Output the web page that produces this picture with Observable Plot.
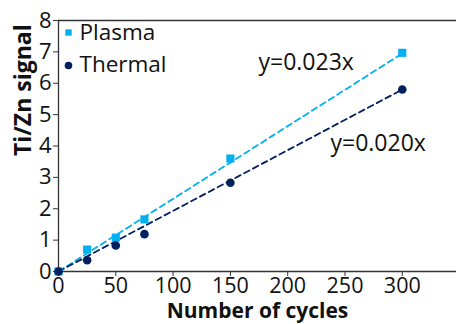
<!DOCTYPE html>
<html><head><meta charset="utf-8">
<script src="https://cdn.jsdelivr.net/npm/d3@7"></script>
<script src="https://cdn.jsdelivr.net/npm/@observablehq/plot@0.6"></script>
<style>body{margin:0;background:#fff}svg{font-family:"Open Sans",sans-serif}</style>
</head><body><div id="chart"></div>
<script>
const cycles = [0, 25, 50, 75, 150, 300];
const plasma = [0, 0.70, 1.08, 1.66, 3.60, 6.97];
const thermal = [0, 0.36, 0.83, 1.19, 2.83, 5.80];
const seriesNames = ["Plasma", "Thermal"];
const seriesColors = ["#00B0F0", "#002060"];
const fitX = [0, 300];
const fitPlasma = [0, 6.95];
const fitThermal = [0, 5.8];
const eqLabels = ["y=0.023x", "y=0.020x"];
const xTicks = [0, 50, 100, 150, 200, 250, 300];
const yTicks = [0, 1, 2, 3, 4, 5, 6, 7, 8];

const pts = cycles.flatMap((c, i) => [
  {x: c, y: plasma[i], s: seriesNames[0]},
  {x: c, y: thermal[i], s: seriesNames[1]}
]);
const fits = fitX.flatMap((c, i) => [
  {x: c, y: fitPlasma[i], s: seriesNames[0]},
  {x: c, y: fitThermal[i], s: seriesNames[1]}
]);
const axisColor = "#333";
const plot = Plot.plot({
  width: 456, height: 324,
  marginLeft: 58, marginTop: 20, marginBottom: 53, marginRight: 0,
  style: {fontFamily: "Open Sans, sans-serif", fontSize: "22px", color: "#111", background: "#fff"},
  x: {domain: [0, 347.3], ticks: xTicks, label: null},
  y: {domain: [0, 8], ticks: yTicks, label: null},
  marks: [
    Plot.axisX({ticks: xTicks, tickSize: 5, tickPadding: 1, fontSize: 21.5, stroke: axisColor, label: null}),
    Plot.axisY({ticks: yTicks, tickSize: 5, tickPadding: 2, fontSize: 22, stroke: axisColor, label: null}),
    Plot.ruleY([0], {stroke: axisColor, strokeWidth: 1.3}),
    Plot.ruleY([8], {stroke: axisColor, strokeWidth: 1.3}),
    Plot.ruleX([0], {stroke: axisColor, strokeWidth: 1.3}),
    Plot.line(fits, {x: "x", y: "y", z: "s", stroke: d => d.s === seriesNames[0] ? seriesColors[0] : seriesColors[1], strokeWidth: 1.8, strokeDasharray: "6,4"}),
    Plot.dot(pts.filter(d => d.s === seriesNames[0]), {x: "x", y: "y", symbol: "square", r: 4.6, fill: seriesColors[0], stroke: "none"}),
    Plot.dot(pts.filter(d => d.s === seriesNames[1]), {x: "x", y: "y", symbol: "circle", r: 4.3, fill: seriesColors[1], stroke: "none"}),
    // legend
    Plot.dot([seriesNames[0]], {frameAnchor: "top-left", dx: 10, dy: 12, symbol: "square", r: 3.6, fill: seriesColors[0], stroke: "none"}),
    Plot.dot([seriesNames[1]], {frameAnchor: "top-left", dx: 10, dy: 45, symbol: "circle", r: 3.8, fill: seriesColors[1], stroke: "none"}),
    Plot.text([seriesNames[0]], {text: d => d, frameAnchor: "top-left", dx: 21, dy: 12, textAnchor: "start", lineAnchor: "middle", fontSize: 22.5, fill: "#111"}),
    Plot.text([seriesNames[1]], {text: d => d, frameAnchor: "top-left", dx: 21, dy: 44, textAnchor: "start", lineAnchor: "middle", fontSize: 22.5, fill: "#111"}),
    // equations
    Plot.text([eqLabels[0]], {text: d => d, frameAnchor: "top-left", dx: 200, dy: 42, textAnchor: "start", lineAnchor: "middle", fontSize: 23, fill: "#111"}),
    Plot.text([eqLabels[1]], {text: d => d, frameAnchor: "top-left", dx: 272, dy: 123, textAnchor: "start", lineAnchor: "middle", fontSize: 23, fill: "#111"}),
    // axis titles
    Plot.text(["Number of cycles"], {text: d => d, frameAnchor: "bottom", dy: 40, lineAnchor: "middle", fontSize: 21, fontWeight: "bold", fill: "#111"}),
    Plot.text(["Ti/Zn signal"], {text: d => d, frameAnchor: "left", dx: -35, dy: 10, rotate: -90, lineAnchor: "middle", fontSize: 23, fontWeight: "bold", fill: "#111"})
  ]
});
document.getElementById("chart").appendChild(plot);
</script></body></html>
